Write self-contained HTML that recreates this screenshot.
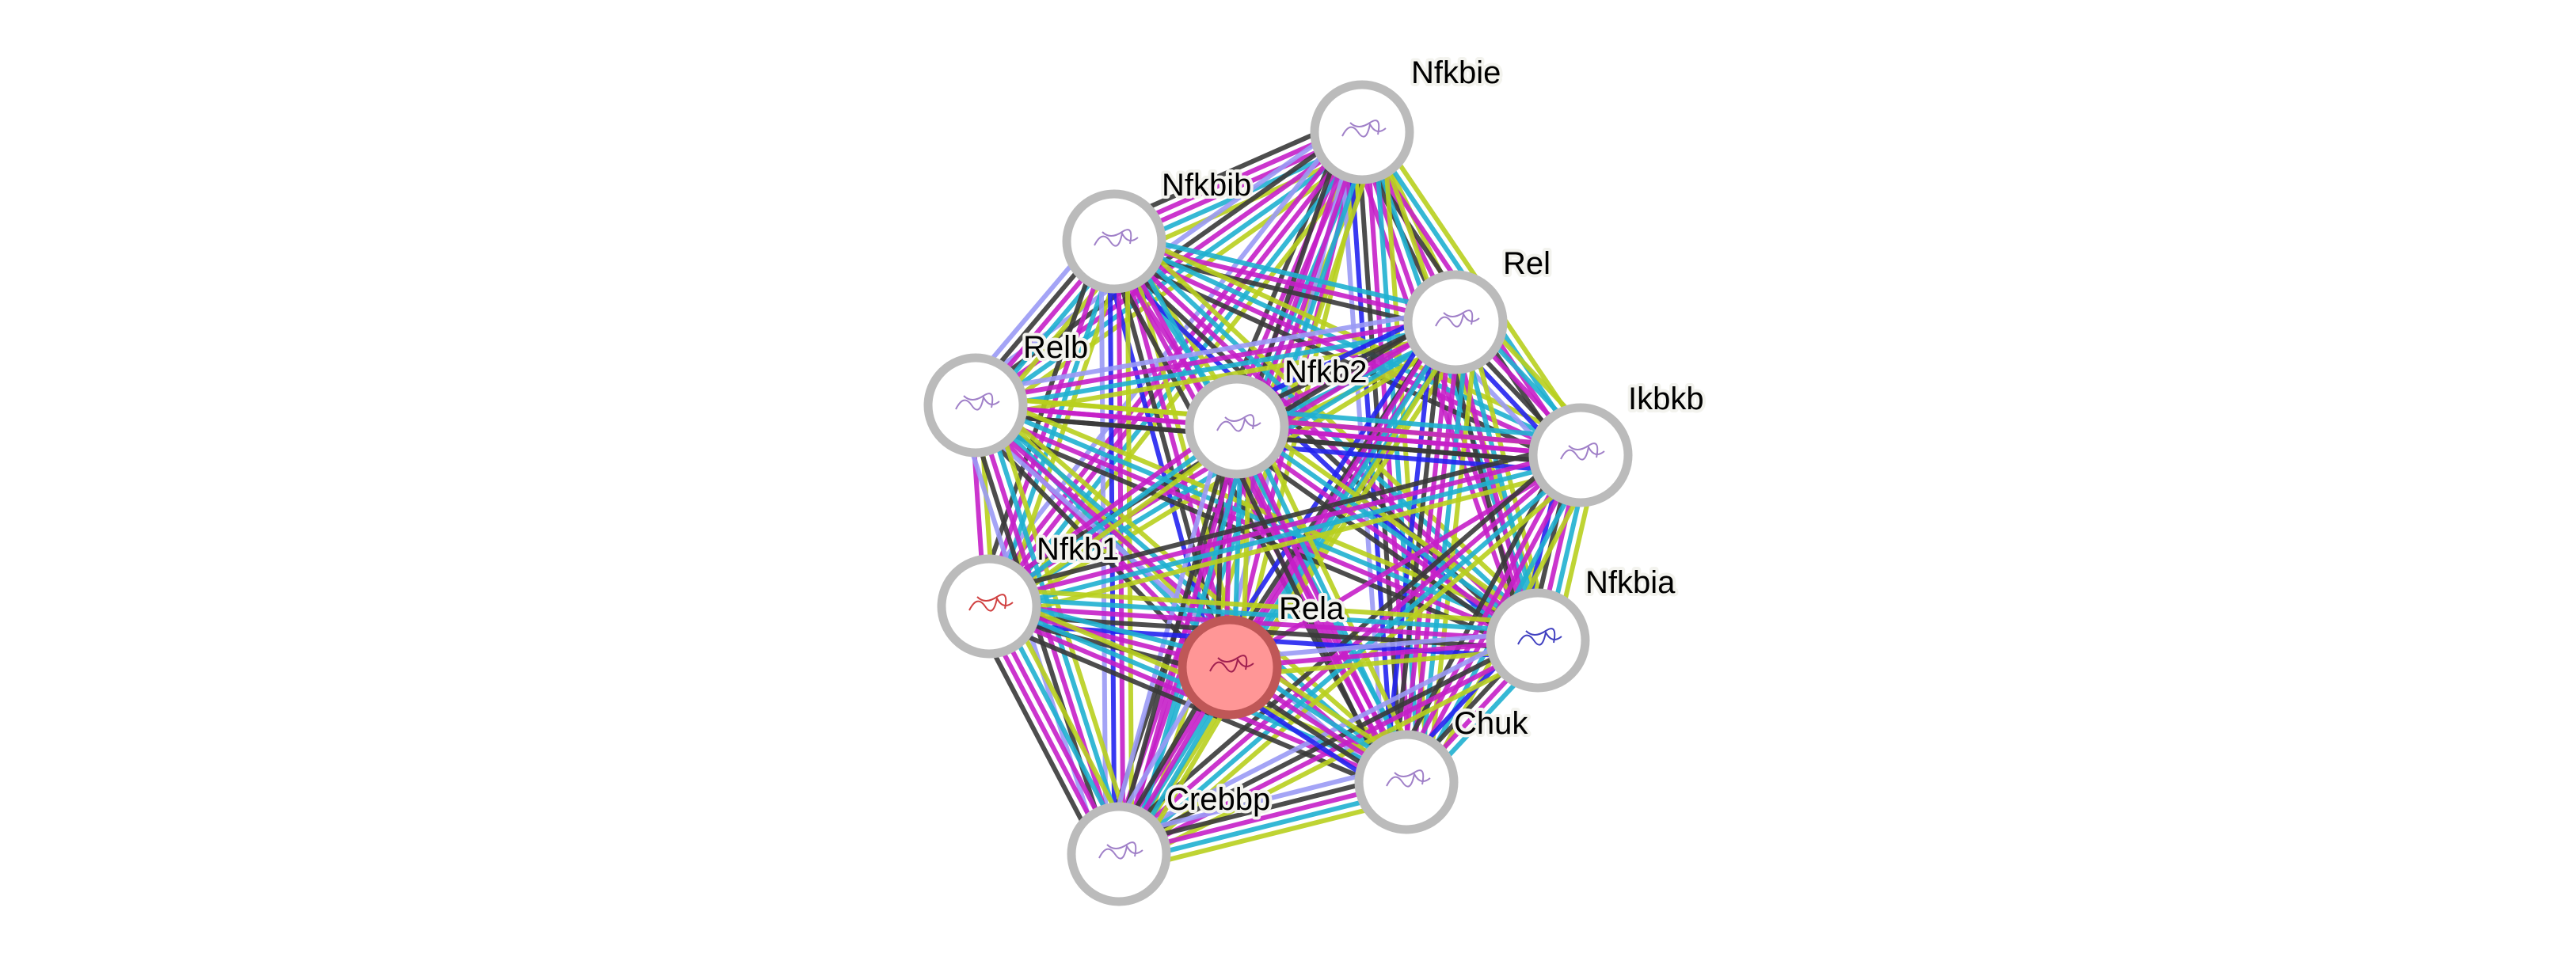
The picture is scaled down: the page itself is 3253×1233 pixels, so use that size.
<!DOCTYPE html>
<html><head><meta charset="utf-8"><style>
html,body{margin:0;padding:0;background:#fff;width:3253px;height:1233px;overflow:hidden}
svg{display:block}
text{font-family:"Liberation Sans",sans-serif;font-size:40px;fill:#000}
.h{stroke:#f3f3ee;stroke-width:8px;stroke-linejoin:round;fill:#f3f3ee}
</style></head><body>
<svg id="s" width="3253" height="1233" viewBox="0 0 3253 1233" xmlns="http://www.w3.org/2000/svg">
<g id="edges"></g>
<g id="nodes"></g>
<g id="labels">
<text class="h" x="1782" y="105">Nfkbie</text><text x="1782" y="105">Nfkbie</text>
<text class="h" x="1467" y="247">Nfkbib</text><text x="1467" y="247">Nfkbib</text>
<text class="h" x="1898" y="346">Rel</text><text x="1898" y="346">Rel</text>
<text class="h" x="1292" y="452">Relb</text><text x="1292" y="452">Relb</text>
<text class="h" x="1622" y="483">Nfkb2</text><text x="1622" y="483">Nfkb2</text>
<text class="h" x="2056" y="517">Ikbkb</text><text x="2056" y="517">Ikbkb</text>
<text class="h" x="1309" y="707">Nfkb1</text><text x="1309" y="707">Nfkb1</text>
<text class="h" x="2002" y="749">Nfkbia</text><text x="2002" y="749">Nfkbia</text>
<text class="h" x="1615" y="782">Rela</text><text x="1615" y="782">Rela</text>
<text class="h" x="1836" y="927">Chuk</text><text x="1836" y="927">Chuk</text>
<text class="h" x="1473" y="1023">Crebbp</text><text x="1473" y="1023">Crebbp</text>
</g>
</svg>
<script>
var N=[[1720,167],[1407,305],[1838,407],[1232,512],[1562,539],[1996,575],[1249,766],[1942,809],[1553,843],[1776,988],[1413,1079]];
var C=["#b8cf1e","#1fb0d0","#c51fc8","#3a3a3a","#2323f0","#9a9af5"];
var ns="http://www.w3.org/2000/svg",E=document.getElementById("edges"),G=document.getElementById("nodes");
var seed=7;function r(){seed=(seed*9301+49297)%233280;return seed/233280;}
for(var i=0;i<N.length;i++)for(var j=i+1;j<N.length;j++){
 var a=N[i],b=N[j],dx=b[0]-a[0],dy=b[1]-a[1],L=Math.hypot(dx,dy),px=-dy/L,py=dx/L;
 var cols=[];
 if(r()<0.85)cols.push(C[0]);
 if(r()<0.8)cols.push(C[1]);
 cols.push(C[2]);
 if(r()<0.2)cols.push(C[2]);
 if(r()<0.75)cols.push(C[3]);
 if(r()<0.25)cols.push(C[4]);
 if(r()<0.25)cols.push(C[5]);
 var n=cols.length;
 for(var k=0;k<n;k++){var o=(k-(n-1)/2)*11;
  var l=document.createElementNS(ns,"line");
  l.setAttribute("x1",a[0]+px*o);l.setAttribute("y1",a[1]+py*o);
  l.setAttribute("x2",b[0]+px*o);l.setAttribute("y2",b[1]+py*o);
  l.setAttribute("stroke",cols[k]);l.setAttribute("stroke-width","6");l.setAttribute("stroke-opacity","0.9");
  E.appendChild(l);}
}
for(var i=0;i<N.length;i++){
 var c=document.createElementNS(ns,"circle");
 c.setAttribute("cx",N[i][0]);c.setAttribute("cy",N[i][1]);c.setAttribute("r","60");
 if(i==8){c.setAttribute("fill","#ff9696");c.setAttribute("stroke","#bf5757");}
 else{c.setAttribute("fill","#fff");c.setAttribute("stroke","#bbbbbb");}
 c.setAttribute("stroke-width","11");G.appendChild(c);
 var p=document.createElementNS(ns,"path"),x=N[i][0],y=N[i][1];
 p.setAttribute("d","M"+(x-25)+","+(y+5)+" q10,-20 20,-5 t15,-10 q8,15 20,5 M"+(x-15)+","+(y-12)+" q10,10 25,0 t10,15");
 p.setAttribute("fill","none");p.setAttribute("stroke",i==8?"#a02050":(i==6?"#d04040":(i==7?"#4040c0":"#a080c8")));p.setAttribute("stroke-width","2");
 G.appendChild(p);
}
</script>
</body></html>
